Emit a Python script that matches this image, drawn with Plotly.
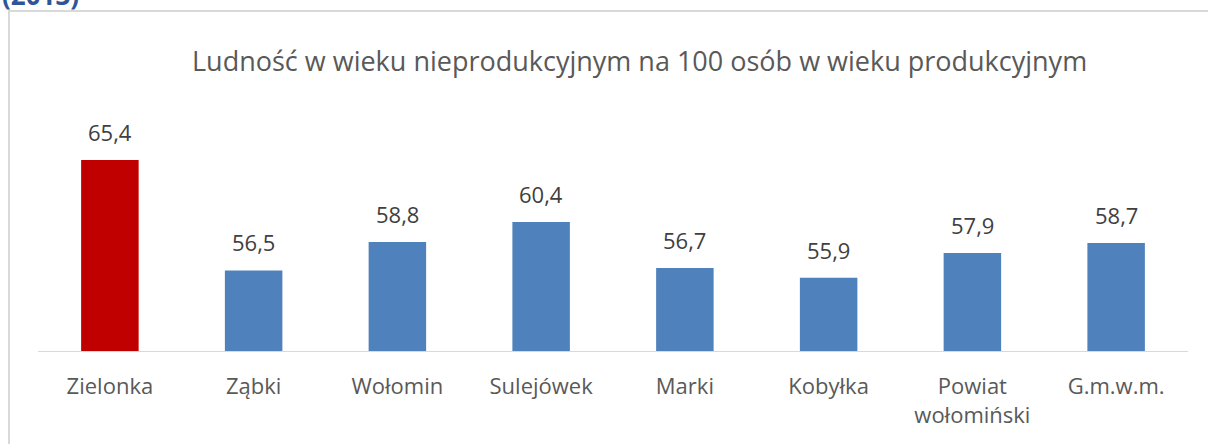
import plotly.graph_objects as go

categories = ["Zielonka", "Ząbki", "Wołomin", "Sulejówek", "Marki", "Kobyłka", "Powiat<br>wołomiński", "G.m.w.m."]
values = [65.4, 56.5, 58.8, 60.4, 56.7, 55.9, 57.9, 58.7]
labels = ["65,4", "56,5", "58,8", "60,4", "56,7", "55,9", "57,9", "58,7"]
colors = ["#C00000"] + ["#4F81BD"] * 7

W, H = 1208, 444
L, R, T, B = 38, 20, 103, 93
pw, ph = W - L - R, H - T - B

def px(x):
    return (x - L) / pw

def py(y):
    return (H - B - y) / ph

fig = go.Figure(go.Bar(
    x=categories, y=values, marker=dict(color=colors, line=dict(width=0)),
    width=0.4, hoverinfo="skip",
))

annotations = [
    dict(text=t, x=c, y=v, xref="x", yref="y", showarrow=False, xanchor="center",
         yanchor="bottom", yshift=11, font=dict(family="Open Sans", size=22, color="#404040"))
    for c, v, t in zip(categories, values, labels)
]
annotations += [
    dict(text="Ludność w wieku nieprodukcyjnym na 100 osób w wieku produkcyjnym",
         x=px(639), y=py(60), xref="paper", yref="paper", showarrow=False,
         xanchor="center", yanchor="middle",
         font=dict(family="Open Sans", size=27, color="#595959")),
    dict(text="<b>(2013)</b>", x=px(0), y=py(-5), xref="paper", yref="paper", showarrow=False,
         xanchor="left", yanchor="middle",
         font=dict(family="Open Sans", size=26, color="#2E5597")),
]

fig.update_layout(
    width=W, height=H, margin=dict(l=L, r=R, t=T, b=B, autoexpand=False),
    paper_bgcolor="white", plot_bgcolor="white", showlegend=False,
    font=dict(family="Open Sans", color="#595959"),
    xaxis=dict(showline=True, linecolor="#D9D9D9", linewidth=1, ticks="", automargin=False,
               ticklabelstandoff=16,
               tickfont=dict(family="Open Sans", size=22, color="#595959"), showgrid=False),
    yaxis=dict(range=[50, 70], visible=False, showgrid=False, automargin=False),
    shapes=[dict(type="rect", xref="paper", yref="paper",
                 x0=px(9), x1=px(1230), y0=py(470), y1=py(11),
                 line=dict(color="#D9D9D9", width=2), fillcolor="rgba(0,0,0,0)", layer="below")],
    annotations=annotations,
)
fig.write_html("out.html", config={"displayModeBar": False},
               post_script="document.body.style.margin='0';")
